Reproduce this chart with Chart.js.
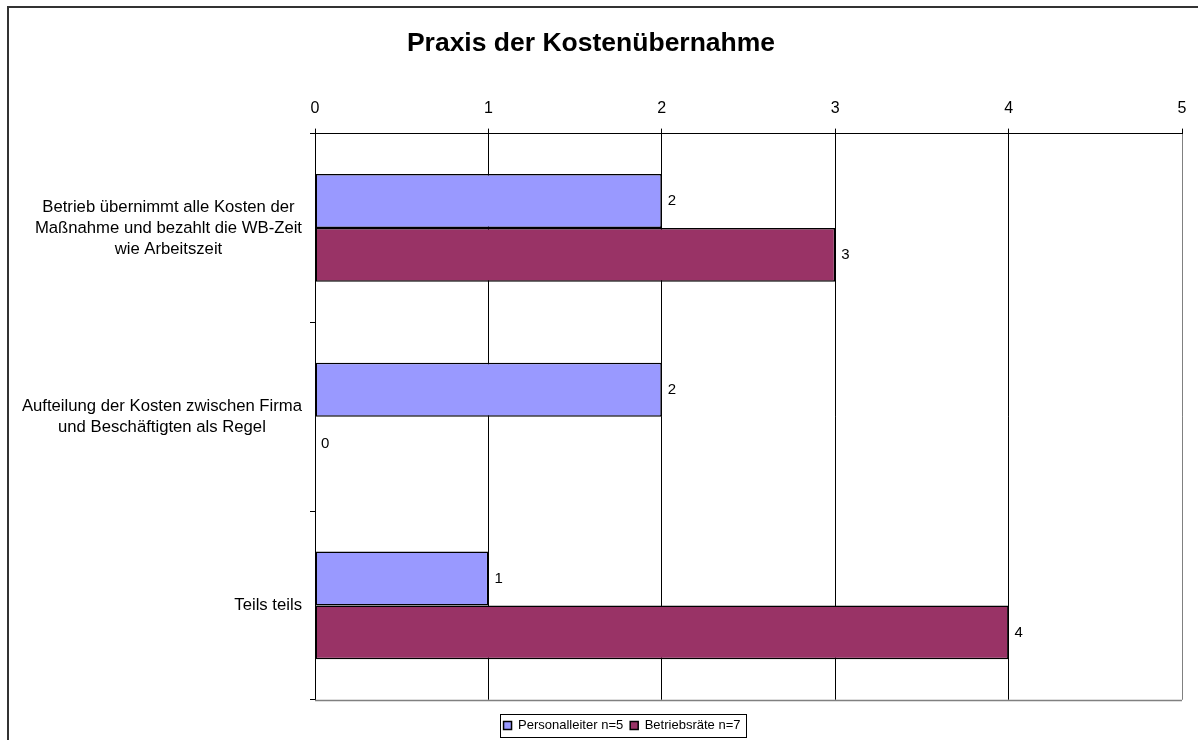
<!DOCTYPE html>
<html>
<head>
<meta charset="utf-8">
<title>Praxis der Kostenübernahme</title>
<script src="https://cdn.jsdelivr.net/npm/chart.js@4.4.1/dist/chart.umd.min.js"></script>
<style>
    html, body { margin: 0; padding: 0; background: #fff; overflow: hidden; }
    #wrap { position: relative; width: 1198px; height: 740px; }
    #chart { position: absolute; left: 0; top: 0; }
    #frame {
        position: absolute; left: 7px; top: 6px;
        width: 1300px; height: 900px;
        border: 2px solid #333;
        pointer-events: none;
    }
</style>
</head>
<body>
<div id="wrap">
    <canvas id="chart" width="1198" height="740"></canvas>
    <div id="frame"></div>
</div>
<script>
// Data
const categories = [
    ['Betrieb übernimmt alle Kosten der', 'Maßnahme und bezahlt die WB-Zeit', 'wie Arbeitszeit'],
    ['Aufteilung der Kosten zwischen Firma', 'und Beschäftigten als Regel'],
    ['Teils teils']
];
const personalleiter = [2, 2, 1];
const betriebsraete = [3, 0, 4];
const xTicks = [0, 1, 2, 3, 4, 5];

const FONT = 'Arial, "Liberation Sans", Helvetica, sans-serif';
const LEGEND_SHIFT = 31;

Chart.defaults.font.family = FONT;
Chart.defaults.color = '#000';

// Category labels: block right aligned, lines centered within block
const categoryLabels = {
    id: 'categoryLabels',
    afterDraw(chart) {
        const yScale = chart.scales.y;
        const ctx = chart.ctx;
        const lineHeight = 21;
        ctx.save();
        ctx.font = '16.7px ' + FONT;
        ctx.fillStyle = '#000';
        ctx.textAlign = 'center';
        ctx.textBaseline = 'middle';
        categories.forEach((lines, i) => {
            const y = yScale.getPixelForValue(i);
            const bw = Math.max(...lines.map(l => ctx.measureText(l).width));
            const cx = yScale.right - 13 - bw / 2;
            const y0 = y - (lines.length - 1) * lineHeight / 2;
            lines.forEach((line, k) => ctx.fillText(line, cx, y0 + k * lineHeight));
        });
        ctx.restore();
    }
};

// Value labels to the right of each bar
const valueLabels = {
    id: 'valueLabels',
    afterDatasetsDraw(chart) {
        const ctx = chart.ctx;
        ctx.save();
        ctx.font = '15px ' + FONT;
        ctx.fillStyle = '#000';
        ctx.textAlign = 'left';
        ctx.textBaseline = 'middle';
        chart.data.datasets.forEach((ds, i) => {
            chart.getDatasetMeta(i).data.forEach((bar, j) => {
                ctx.fillText(String(ds.data[j]), bar.x + 6, bar.y);
            });
        });
        ctx.restore();
    }
};

// Plot frame (bottom edge) and legend box
const frames = {
    id: 'frames',
    afterUpdate(chart) {
        const legend = chart.legend;
        legend.left += LEGEND_SHIFT;
        legend.right += LEGEND_SHIFT;
        legend.legendHitBoxes.forEach(b => { b.left += LEGEND_SHIFT; });
    },
    afterDraw(chart) {
        const ctx = chart.ctx;
        const area = chart.chartArea;
        ctx.save();
        ctx.strokeStyle = '#808080';
        ctx.lineWidth = 1.5;
        ctx.beginPath();
        ctx.moveTo(area.left, Math.round(area.bottom) + 0.5);
        ctx.lineTo(area.right, Math.round(area.bottom) + 0.5);
        ctx.stroke();

        const boxes = chart.legend.legendHitBoxes;
        if (boxes.length) {
            const left = Math.min(...boxes.map(b => b.left)) - 4;
            const right = Math.max(...boxes.map(b => b.left + b.width)) + 5;
            const top = boxes[0].top - 5;
            const bottom = boxes[0].top + boxes[0].height + 5;
            ctx.strokeStyle = '#000';
            ctx.lineWidth = 1;
            ctx.strokeRect(Math.round(left) + 0.5, Math.round(top) + 0.5,
                Math.round(right - left), Math.round(bottom - top));
        }
        ctx.restore();
    }
};

const ctx = document.getElementById('chart').getContext('2d');

new Chart(ctx, {
    type: 'bar',
    data: {
        labels: categories,
        datasets: [
            {
                label: 'Personalleiter n=5',
                data: personalleiter,
                backgroundColor: '#9999FF',
                borderColor: '#000',
                borderWidth: 1.5,
                borderSkipped: false,
            },
            {
                label: 'Betriebsräte n=7',
                data: betriebsraete,
                backgroundColor: '#993366',
                borderColor: '#000',
                borderWidth: 1.5,
                borderSkipped: false,
            }
        ]
    },
    options: {
        indexAxis: 'y',
        responsive: false,
        animation: false,
        devicePixelRatio: 1,
        layout: {
            padding: { left: 0, right: 16, top: 0, bottom: -2 }
        },
        datasets: {
            bar: {
                categoryPercentage: 0.571,
                barPercentage: 1,
            }
        },
        scales: {
            x: {
                position: 'top',
                min: xTicks[0],
                max: xTicks[xTicks.length - 1],
                afterBuildTicks: (scale) => {
                    scale.ticks = xTicks.map(v => ({ value: v }));
                },
                afterFit: (scale) => { scale.height = 73.8; },
                ticks: {
                    font: { size: 16 },
                    color: '#000',
                    padding: 10,
                },
                grid: {
                    color: (c) => (c.tick && c.tick.value === 5 ? '#808080' : '#000'),
                    tickColor: '#000',
                    tickLength: 5,
                    drawTicks: true,
                },
                border: { display: true, color: '#000', width: 1 }
            },
            y: {
                position: 'left',
                afterFit: (scale) => { scale.width = 315; },
                ticks: { display: false },
                grid: {
                    offset: true,
                    drawOnChartArea: false,
                    drawTicks: true,
                    tickLength: 5,
                    color: '#000',
                },
                border: { display: true, color: '#000', width: 1 }
            }
        },
        plugins: {
            title: {
                display: true,
                text: 'Praxis der Kostenübernahme',
                color: '#000',
                font: { size: 26.5, weight: 'bold' },
                padding: { top: 28, bottom: 0 }
            },
            legend: {
                position: 'bottom',
                title: {
                    display: true,
                    text: '',
                    font: { size: 1 },
                    padding: { top: 5.5, bottom: 5.5 }
                },
                labels: {
                    font: { size: 13 },
                    color: '#000',
                    boxWidth: 8,
                    boxHeight: 8,
                    padding: 7,
                }
            },
            tooltip: { enabled: false }
        }
    },
    plugins: [categoryLabels, valueLabels, frames]
});
</script>
</body>
</html>
